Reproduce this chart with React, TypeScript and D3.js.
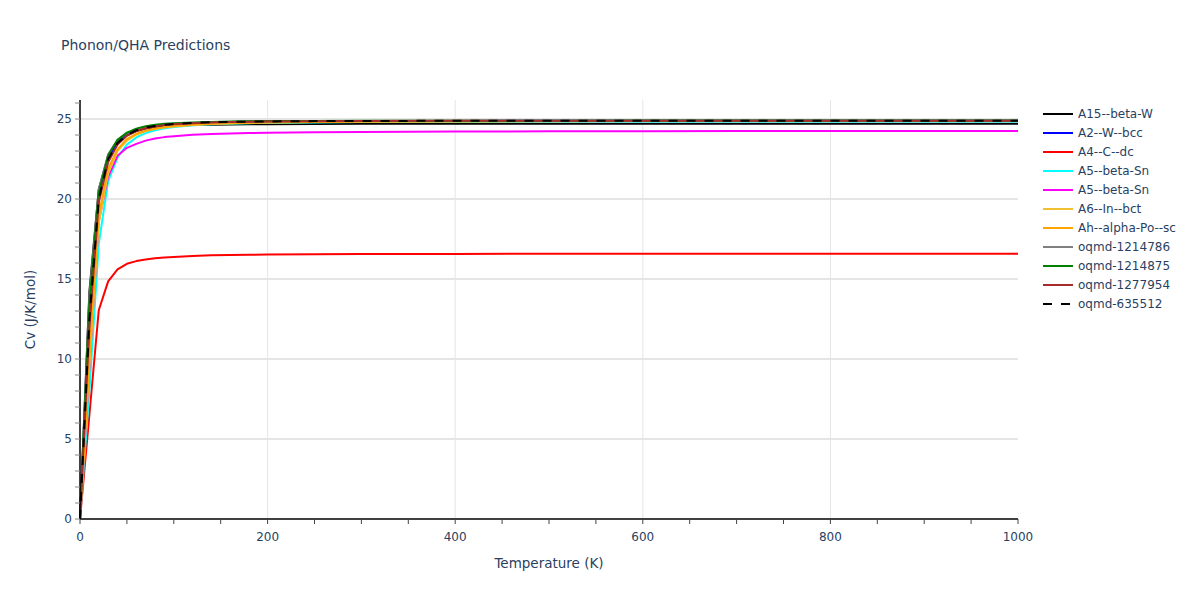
import * as d3 from 'd3'

const temps = [0, 10, 20, 30, 40, 50, 60, 70, 80, 90, 100, 120, 140, 160, 180, 200, 250, 300, 400, 500, 600, 700, 800, 900, 1000]

const seriesNames = [
  'A15--beta-W', 'A2--W--bcc', 'A4--C--dc', 'A5--beta-Sn', 'A5--beta-Sn', 'A6--In--bct',
  'Ah--alpha-Po--sc', 'oqmd-1214786', 'oqmd-1214875', 'oqmd-1277954', 'oqmd-635512',
]
const seriesColors = ['#000000', '#0000ff', '#ff0000', '#00ffff', '#ff00ff', '#f0c030', '#ffa500', '#808080', '#008000', '#a52a2a', '#000000']
const seriesDash = [false, false, false, false, false, false, false, false, false, false, true]

const cvA15 = [0, 14.2, 20.6, 22.7, 23.6, 24.0, 24.25, 24.4, 24.48, 24.53, 24.57, 24.62, 24.64, 24.66, 24.67, 24.68, 24.69, 24.7, 24.7, 24.7, 24.7, 24.7, 24.7, 24.7, 24.7]
const cvA2 = [0, 12.0, 20.0, 22.5, 23.5, 24.0, 24.3, 24.45, 24.55, 24.62, 24.67, 24.74, 24.78, 24.81, 24.83, 24.84, 24.86, 24.87, 24.88, 24.89, 24.89, 24.9, 24.9, 24.9, 24.9]
const cvA4 = [0, 6.5, 13.05, 14.85, 15.6, 15.95, 16.12, 16.22, 16.3, 16.34, 16.38, 16.44, 16.48, 16.5, 16.52, 16.53, 16.55, 16.56, 16.57, 16.58, 16.58, 16.58, 16.58, 16.58, 16.58]
const cvA5a = [0, 8.0, 17.2, 21.1, 22.6, 23.4, 23.85, 24.12, 24.3, 24.42, 24.5, 24.61, 24.67, 24.71, 24.74, 24.76, 24.79, 24.81, 24.83, 24.84, 24.85, 24.85, 24.85, 24.85, 24.85]
const cvA5b = [0, 9.5, 18.6, 21.4, 22.7, 23.2, 23.45, 23.65, 23.78, 23.87, 23.93, 24.02, 24.07, 24.1, 24.12, 24.14, 24.17, 24.19, 24.22, 24.23, 24.24, 24.25, 24.25, 24.25, 24.25]
const cvA6 = [0, 9.5, 18.5, 21.6, 23.0, 23.65, 24.02, 24.25, 24.38, 24.47, 24.54, 24.63, 24.69, 24.73, 24.76, 24.78, 24.81, 24.83, 24.85, 24.86, 24.87, 24.87, 24.87, 24.87, 24.87]
const cvAh = [0, 10.2, 19.0, 21.9, 23.1, 23.75, 24.08, 24.28, 24.41, 24.5, 24.56, 24.65, 24.7, 24.74, 24.77, 24.79, 24.82, 24.84, 24.86, 24.87, 24.88, 24.88, 24.88, 24.88, 24.88]
const cvOq1214786 = [0, 14.0, 20.6, 22.8, 23.7, 24.1, 24.35, 24.5, 24.6, 24.66, 24.7, 24.76, 24.8, 24.82, 24.84, 24.85, 24.87, 24.88, 24.89, 24.9, 24.9, 24.9, 24.9, 24.9, 24.9]
const cvOq1214875 = [0, 13.5, 20.4, 22.7, 23.7, 24.15, 24.4, 24.55, 24.64, 24.7, 24.74, 24.79, 24.82, 24.84, 24.86, 24.87, 24.88, 24.89, 24.9, 24.9, 24.91, 24.91, 24.91, 24.91, 24.91]
const cvOq1277954 = [0, 12.0, 19.8, 22.3, 23.4, 23.95, 24.25, 24.42, 24.54, 24.62, 24.67, 24.74, 24.78, 24.81, 24.83, 24.84, 24.86, 24.87, 24.89, 24.9, 24.9, 24.9, 24.9, 24.9, 24.9]
const cvOq635512 = [0, 12.5, 20.0, 22.5, 23.5, 24.0, 24.3, 24.47, 24.57, 24.64, 24.69, 24.76, 24.8, 24.82, 24.84, 24.85, 24.87, 24.88, 24.89, 24.9, 24.9, 24.9, 24.9, 24.9, 24.9]

const seriesValues = [cvA15, cvA2, cvA4, cvA5a, cvA5b, cvA6, cvAh, cvOq1214786, cvOq1214875, cvOq1277954, cvOq635512]

const xTicks = [0, 200, 400, 600, 800, 1000]
const yTicks = [0, 5, 10, 15, 20, 25]

const font = '"DejaVu Sans", Verdana, sans-serif'
const textColor = '#2a3f5f'

export default function App() {
  const W = 1200
  const H = 600
  const left = 80, right = 1018, top = 100, bottom = 519

  const x = d3.scaleLinear().domain([0, 1000]).range([left, right])
  const y = d3.scaleLinear().domain([0, 26.19]).range([bottom, top])

  const line = d3.line<number>()
    .x((_, i) => x(temps[i]))
    .y(d => y(d))

  const minorX = d3.range(0, 1001, 50)
  const minorY = d3.range(0, 27, 1)

  return (
    <svg width={W} height={H} style={{ position: 'absolute', left: 0, top: 0, background: '#fff', fontFamily: font }}>
      <text x={61} y={50} fontSize={14} fill={textColor}>Phonon/QHA Predictions</text>

      {/* grid */}
      {xTicks.filter(t => t > 0 && t < 1000).map(t => (
        <line key={'gx' + t} x1={x(t)} x2={x(t)} y1={top} y2={bottom} stroke="#e5e5e5" strokeWidth={1} />
      ))}
      {yTicks.filter(t => t > 0).map(t => (
        <line key={'gy' + t} x1={left} x2={right} y1={y(t)} y2={y(t)} stroke="#e5e5e5" strokeWidth={2} />
      ))}

      {/* series */}
      <g>
        {seriesValues.map((vals, i) => (
          <path key={i} d={line(vals) || ''} fill="none" stroke={seriesColors[i]} strokeWidth={2}
            strokeDasharray={seriesDash[i] ? '9,9' : undefined} strokeLinejoin="round" />
        ))}
      </g>

      {/* axes */}
      <line x1={left} x2={right} y1={bottom} y2={bottom} stroke="#000" strokeWidth={1.5} />
      <line x1={left} x2={left} y1={top} y2={bottom} stroke="#000" strokeWidth={1.5} />
      {minorX.map(t => (
        <line key={'tx' + t} x1={x(t)} x2={x(t)} y1={bottom} y2={bottom + 5} stroke="#444" strokeWidth={1} />
      ))}
      {minorY.map(t => (
        <line key={'ty' + t} x1={left - 5} x2={left} y1={y(t)} y2={y(t)} stroke="#888" strokeWidth={1} />
      ))}
      {xTicks.map(t => (
        <text key={'lx' + t} x={x(t)} y={541} fontSize={12} fill={textColor} textAnchor="middle">{t}</text>
      ))}
      {yTicks.map(t => (
        <text key={'ly' + t} x={72} y={y(t) + 4} fontSize={12} fill={textColor} textAnchor="end">{t}</text>
      ))}
      <text x={(left + right) / 2} y={568} fontSize={13.5} fill={textColor} textAnchor="middle">Temperature (K)</text>
      <text transform={`translate(35,${(top + bottom) / 2}) rotate(-90)`} fontSize={13.5} fill={textColor} textAnchor="middle">Cv (J/K/mol)</text>

      {/* legend */}
      {seriesNames.map((name, i) => (
        <g key={'lg' + i} transform={`translate(1043,${114 + i * 19})`}>
          <line x1={0} x2={30} y1={0} y2={0} stroke={seriesColors[i]} strokeWidth={2}
            strokeDasharray={seriesDash[i] ? '9,9' : undefined} />
          <text x={35} y={4} fontSize={12} fill={textColor}>{name}</text>
        </g>
      ))}
    </svg>
  )
}
